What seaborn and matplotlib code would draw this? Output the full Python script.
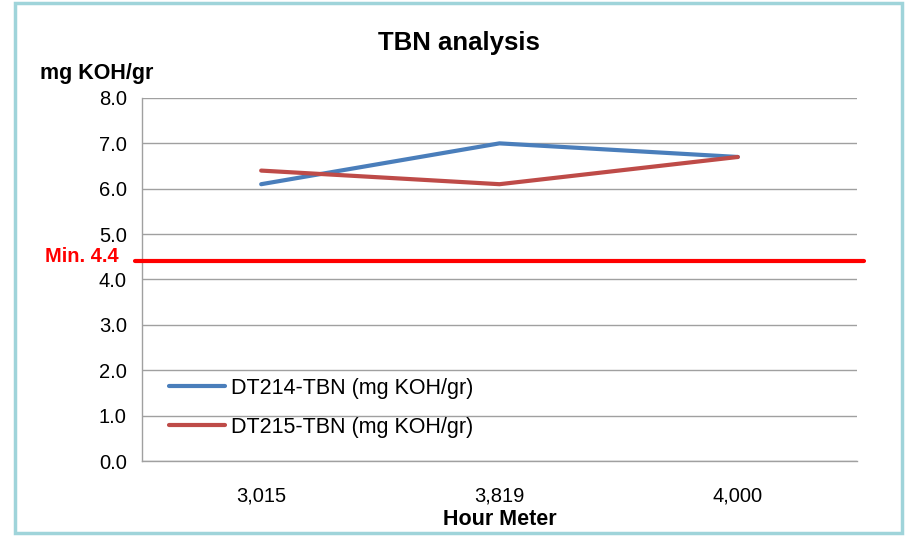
import numpy as np
import pandas as pd
import matplotlib
matplotlib.use("Agg")
import matplotlib.pyplot as plt
from matplotlib.patches import Rectangle
import seaborn as sns

# Data
hours = ["3,015", "3,819", "4,000"]
dt214 = [6.1, 7.0, 6.7]
dt215 = [6.4, 6.1, 6.7]
min_tbn = 4.4
series_names = ["DT214-TBN (mg KOH/gr)", "DT215-TBN (mg KOH/gr)"]
colors = ["#4a7ebb", "#be4b48"]

df = pd.DataFrame({
    "pos": list(range(len(hours))) * 2,
    "value": dt214 + dt215,
    "series": [series_names[0]] * len(hours) + [series_names[1]] * len(hours),
})

sns.set_style("white")
plt.rcParams["font.family"] = ["Liberation Sans", "DejaVu Sans"]
plt.rcParams["text.color"] = "black"
plt.rcParams["xtick.color"] = "black"
plt.rcParams["ytick.color"] = "black"

fig = plt.figure(figsize=(9.08, 5.36), dpi=100)
ax = fig.add_axes([0.1564, 0.1399, 0.7874, 0.6773])

sns.lineplot(data=df, x="pos", y="value", hue="series", palette=colors,
             linewidth=3, sort=False, ax=ax, legend=True)

# minimum line, runs a bit past the plot area
ax.axhline(min_tbn, xmin=-0.01, xmax=1.01, color="#ff0000", linewidth=3, clip_on=False, zorder=3)

ax.set_ylim(0, 8)
ax.set_yticks(np.arange(0, 8.1, 1.0))
ax.set_yticklabels([f"{v:.1f}" for v in np.arange(0, 8.1, 1.0)], fontsize=14.5)
ax.set_xlim(-0.5, len(hours) - 0.5)
ax.set_xticks(np.arange(-0.5, len(hours), 1.0))
ax.set_xticklabels([])
ax.set_xticks(range(len(hours)), minor=True)
ax.set_xticklabels(hours, minor=True, fontsize=14.5)
ax.tick_params(axis="x", which="major", length=8, color="#a0a0a0", width=1)
ax.tick_params(axis="x", which="minor", length=0, pad=18)
ax.tick_params(axis="y", length=7, color="#a0a0a0", width=1, pad=4)
ax.grid(axis="y", color="#a0a0a0", linewidth=1)
ax.set_axisbelow(True)
for s in ["top", "right"]:
    ax.spines[s].set_visible(False)
for s in ["left", "bottom"]:
    ax.spines[s].set_color("#a0a0a0")
    ax.spines[s].set_linewidth(1)
ax.set_xlabel("")
ax.set_ylabel("")

leg = ax.legend(loc="lower left", bbox_to_anchor=(0.01, 0.01), frameon=False,
                fontsize=15.5, handlelength=2.6, handletextpad=0.3, labelspacing=0.85)

fig.text(0.505, 0.92, "TBN analysis", ha="center", va="center", fontsize=18.5, fontweight="bold")
fig.text(0.044, 0.862, "mg KOH/gr", ha="left", va="center", fontsize=15.5, fontweight="bold")
fig.text(0.131, 0.521, "Min. 4.4", ha="right", va="center", fontsize=14.5,
         fontweight="bold", color="#ff0000")
fig.text(0.551, 0.030, "Hour Meter", ha="center", va="center", fontsize=15.5, fontweight="bold")

# outer frame
fig.patches.append(Rectangle((0.017, 0.006), 0.976, 0.988, transform=fig.transFigure,
                             fill=False, edgecolor="#9fd4da", linewidth=2.5))

fig.savefig("out.png", dpi=100)
